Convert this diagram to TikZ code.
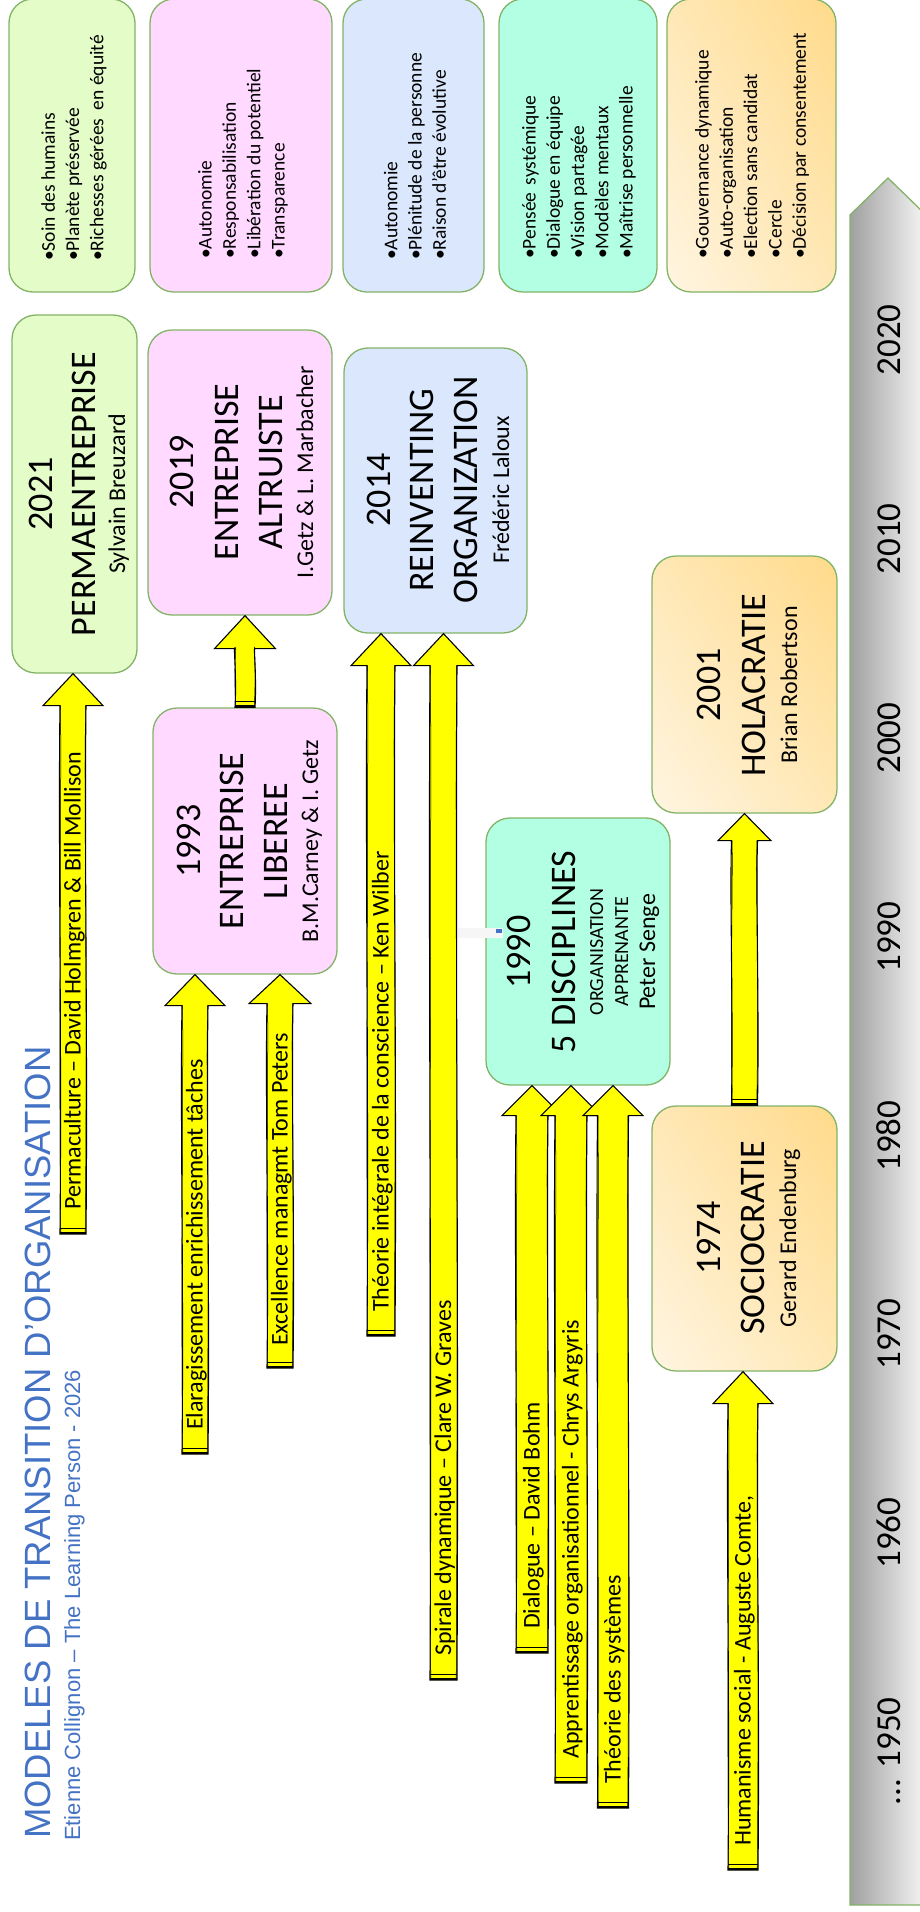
\documentclass[tikz,border=0pt]{standalone}
\usepackage{fontspec}
\setmainfont{Carlito}
\newfontfamily\arialf{Liberation Sans}
\usetikzlibrary{shadings,calc}
\definecolor{boxgreen}{HTML}{82B366}
\definecolor{fgreen}{HTML}{E4FCC8}
\definecolor{fpink}{HTML}{FFD9FF}
\definecolor{fblue}{HTML}{DAE7FC}
\definecolor{fteal}{HTML}{B3FFE4}
\definecolor{orA}{HTML}{FFF5E2}
\definecolor{orB}{HTML}{FFE8B6}
\definecolor{orC}{HTML}{FFDA8A}
\definecolor{titleblue}{HTML}{4472C4}
\definecolor{ayellow}{HTML}{FFFF00}
\definecolor{tlA}{HTML}{A0A0A0}
\definecolor{tlB}{HTML}{DCDCDC}
\definecolor{tlC}{HTML}{F6F6F6}
\tikzset{
 box/.style={draw=boxgreen, line width=1.3pt, rounded corners=24pt, inner sep=0pt},
 orbox/.style={box, lower left=orA, upper right=orC, upper left=orB, lower right=orB},
 txbig/.style={rotate=90, anchor=base, inner sep=0pt, font=\fontsize{36}{44}\selectfont},
 txmid/.style={rotate=90, anchor=base, inner sep=0pt, font=\fontsize{24}{29}\selectfont},
 txsml/.style={rotate=90, anchor=base, inner sep=0pt, font=\fontsize{20}{24}\selectfont},
 bullets/.style={rotate=90, anchor=west, inner sep=0pt, align=left, font=\fontsize{19.5}{24.3}\selectfont},
 arrlabel/.style={rotate=90, anchor=base west, inner sep=0pt, font=\fontsize{24}{29}\selectfont},
 yearlab/.style={rotate=90, inner sep=0pt, font=\fontsize{35}{42}\selectfont},
}
% #1 tail coordinate, #2 target node, #3 shaft width, #4 head width, #5 head length
\newcommand\yarrow[5]{%
 \def\hs{(0.5*#3pt)}\def\hh{(0.5*#4pt)}\def\hl{#5pt}%
 \filldraw[fill=ayellow, draw=black, line width=1.1pt, line join=miter]
  let \p1=(#1), \p2=(#2.south -| #1) in
  ({\x1-\hs},\y1) .. controls ({\x1-\hs+1.8pt},{\y1+0.35*(\y2-\y1)}) and ({\x1-\hs-1.8pt},{\y1+0.7*(\y2-\y1)}) .. ({\x1-\hs},{\y2-\hl})
  -- ({\x1-\hh},{\y2-\hl}) -- (\x1,\y2) -- ({\x1+\hh},{\y2-\hl}) -- ({\x1+\hs},{\y2-\hl})
  .. controls ({\x1+\hs-1.8pt},{\y1+0.7*(\y2-\y1)}) and ({\x1+\hs+1.8pt},{\y1+0.35*(\y2-\y1)}) .. ({\x1+\hs},\y1) -- cycle;
 \draw[black, line width=0.5pt]
  let \p1=(#1), \p2=(#2.south -| #1) in
  ({\x1-\hs+0.8pt},\y1) .. controls ({\x1-\hs-1.5pt},{\y1+0.4*(\y2-\y1)}) and ({\x1-\hs+1.5pt},{\y1+0.75*(\y2-\y1)}) .. ({\x1-\hs+0.6pt},{\y2-\hl})
  ({\x1+\hs-0.8pt},\y1) .. controls ({\x1+\hs+1.5pt},{\y1+0.4*(\y2-\y1)}) and ({\x1+\hs-1.5pt},{\y1+0.75*(\y2-\y1)}) .. ({\x1+\hs-0.6pt},{\y2-\hl});
 \draw[line width=2.4pt] let \p1=(#1) in ({\x1-\hs},{\y1+1.2pt}) -- ({\x1+\hs},{\y1+1.2pt});
 \draw[line width=0.8pt] let \p1=(#1) in ({\x1-\hs},{\y1+5.5pt}) -- ({\x1+\hs},{\y1+5.5pt});
}
\begin{document}
\begin{tikzpicture}[x=1pt, y=-1pt]
\useasboundingbox (0,0) rectangle (920,1912);

% ---- timeline arrow
\shade[left color=tlA, middle color=tlB, right color=tlC] (850,1905) -- (850,215) -- (888,178) -- (926,215) -- (926,1905) -- cycle;
\draw[boxgreen, line width=1.3pt] (850,1905) -- (850,215) -- (888,178) -- (926,215) -- (926,1905) -- cycle;
\node[yearlab, anchor=base] (y2020) at (900,340) {2020};
\node[yearlab, anchor=base] (y2010) at (900,539) {2010};
\node[yearlab, anchor=base] (y2000) at (900,738) {2000};
\node[yearlab, anchor=base] (y1990) at (900,937) {1990};
\node[yearlab, anchor=base] (y1980) at (900,1136) {1980};
\node[yearlab, anchor=base] (y1970) at (900,1334) {1970};
\node[yearlab, anchor=base] (y1960) at (900,1533) {1960};
\node[yearlab, anchor=base east] (y1950) at (900,1697) {... 1950};

% ---- top boxes (values)
\node[box, fill=fgreen, minimum width=126pt, minimum height=293pt] (tA) at (72,145.5) {};
\node[box, fill=fpink, minimum width=182pt, minimum height=293pt] (tB) at (241,145.5) {};
\node[box, fill=fblue, minimum width=141pt, minimum height=293pt] (tC) at (413.5,145.5) {};
\node[box, fill=fteal, minimum width=158pt, minimum height=293pt] (tD) at (578,145.5) {};
\node[orbox, minimum width=169pt, minimum height=293pt] (tE) at (751.5,145.5) {};
\node[bullets] (tAt) at (74,261) {•Soin des humains\\•Planète préservée\\•Richesses gérées\hspace{4pt} en équité};
\node[bullets] (tBt) at (243,259) {•Autonomie\\•Responsabilisation\\•Libération du potentiel\\•Transparence};
\node[bullets] (tCt) at (415,260) {•Autonomie\\•Plénitude de la personne\\•Raison d’être évolutive};
\node[bullets] (tDt) at (579,259) {•Pensée\hspace{3pt} systémique\\•Dialogue en équipe\\•Vision partagée\\•Modèles mentaux\\•Maîtrise personnelle};
\node[bullets] (tEt) at (752,259) {•Gouvernance dynamique\\•Auto-organisation\\•Election sans candidat\\•Cercle\\•Décision par consentement};

% ---- main boxes
\node[box, fill=fgreen, minimum width=125pt, minimum height=358pt] (perm) at (74.5,494) {};
\node[txbig] (permY) at (52,494) {2021};
\node[txbig] (permT) at (95,494) {PERMAENTREPRISE};
\node[txmid] (permA) at (125,494) {Sylvain Breuzard};

\node[box, fill=fpink, minimum width=184pt, minimum height=285pt] (altru) at (240,472.5) {};
\node[txbig] (altruY) at (193,472) {2019};
\node[txbig] (altruT) at (238,472) {ENTREPRISE};
\node[txbig] (altruU) at (282,472) {ALTRUISTE};
\node[txmid] (altruA) at (313,472) {I.Getz \& L. Marbacher};

\node[box, fill=fblue, minimum width=183pt, minimum height=285pt] (reinv) at (435.5,490.5) {};
\node[txbig] (reinvY) at (390,490) {2014};
\node[txbig] (reinvT) at (433,490) {REINVENTING};
\node[txbig] (reinvU) at (477,490) {ORGANIZATION};
\node[txmid] (reinvA) at (509,490) {Frédéric Laloux};

\node[box, fill=fpink, minimum width=184pt, minimum height=266pt] (lib) at (245,841) {};
\node[txbig] (libY) at (200,841) {1993};
\node[txbig] (libT) at (243,841) {ENTREPRISE};
\node[txbig] (libU) at (287,841) {LIBEREE};
\node[txmid] (libA) at (318,841) {B.M.Carney \& I. Getz};

\node[box, fill=fteal, minimum width=184pt, minimum height=267pt] (disc) at (578,951.5) {};
\node[txbig] (discY) at (530,952) {1990};
\node[txbig] (discT) at (575,952) {5 DISCIPLINES};
\node[txsml] (discO) at (603,952) {ORGANISATION};
\node[txsml] (discP) at (628,952) {APPRENANTE};
\node[txmid] (discA) at (655,952) {Peter Senge};

\node[orbox, minimum width=185pt, minimum height=257pt] (hola) at (744.5,684.5) {};
\node[txbig] (holaY) at (720,685) {2001};
\node[txbig] (holaT) at (765,685) {HOLACRATIE};
\node[txmid] (holaA) at (797,685) {Brian Robertson};

\node[orbox, minimum width=185pt, minimum height=265pt] (socio) at (744.5,1238.5) {};
\node[txbig] (socioY) at (720,1238) {1974};
\node[txbig] (socioT) at (764,1238) {SOCIOCRATIE};
\node[txmid] (socioA) at (796,1238) {Gerard Endenburg};

% small artefact near 1990
\fill[gray!7] (458,928) rectangle (503,938);
\fill[titleblue] (496,929) rectangle (502,933);

% ---- arrow tails
\coordinate (tPerm) at (73,1234);
\coordinate (tElar) at (195,1454);
\coordinate (tExcel) at (280,1368);
\coordinate (tTheoI) at (381,1336);
\coordinate (tSpir) at (443.5,1680);
\coordinate (tDial) at (532,1653);
\coordinate (tAppr) at (571,1783);
\coordinate (tTheoS) at (613,1808);
\coordinate (tHuma) at (743,1870);

% ---- arrows
\yarrow{tPerm}{perm}{26}{60}{32}
\yarrow{lib.north}{altru}{20}{61}{33}
\yarrow{tElar}{lib}{26}{60}{31}
\yarrow{tExcel}{lib}{26}{62}{29}
\yarrow{tTheoI}{reinv}{28}{60}{32}
\yarrow{tSpir}{reinv}{27}{60}{32}
\yarrow{tDial}{disc}{32}{60}{30}
\yarrow{tAppr}{disc}{32}{60}{30}
\yarrow{tTheoS}{disc}{31}{60}{30}
\yarrow{tHuma}{socio}{30}{60}{32}
\yarrow{socio.north}{hola}{26}{53}{27}

% ---- arrow labels
\node[arrlabel] (lPerm) at (80.5,1210) {Permaculture – David Holmgren \& Bill Mollison};
\node[arrlabel] (lElar) at (202.5,1430) {Elaragissement enrichissement tâches};
\node[arrlabel] (lExcel) at (287.5,1346) {Excellence managmt Tom Peters};
\node[arrlabel] (lTheoI) at (388.5,1312) {Théorie intégrale de la conscience – Ken Wilber};
\node[arrlabel] (lSpir) at (451,1656) {Spirale dynamique – Clare W. Graves};
\node[arrlabel] (lDial) at (539.5,1629) {Dialogue – David Bohm};
\node[arrlabel] (lAppr) at (578.5,1759) {Apprentissage organisationnel - Chrys Argyris};
\node[arrlabel] (lTheoS) at (620.5,1784) {Théorie des systèmes};
\node[arrlabel] (lHuma) at (750.5,1846) {Humanisme social - Auguste Comte,};

% ---- title
\node[rotate=90, anchor=base west, inner sep=0pt, text=titleblue, font=\arialf\fontsize{36.5}{40}\selectfont] (title) at (50,1839) {MODELES DE TRANSITION D’ORGANISATION};
\node[rotate=90, anchor=base west, inner sep=0pt, text=titleblue, font=\arialf\fontsize{22}{26}\selectfont] (subtitle) at (80,1841) {Etienne Collignon – The Learning Person - 2026};
\end{tikzpicture}
\end{document}
